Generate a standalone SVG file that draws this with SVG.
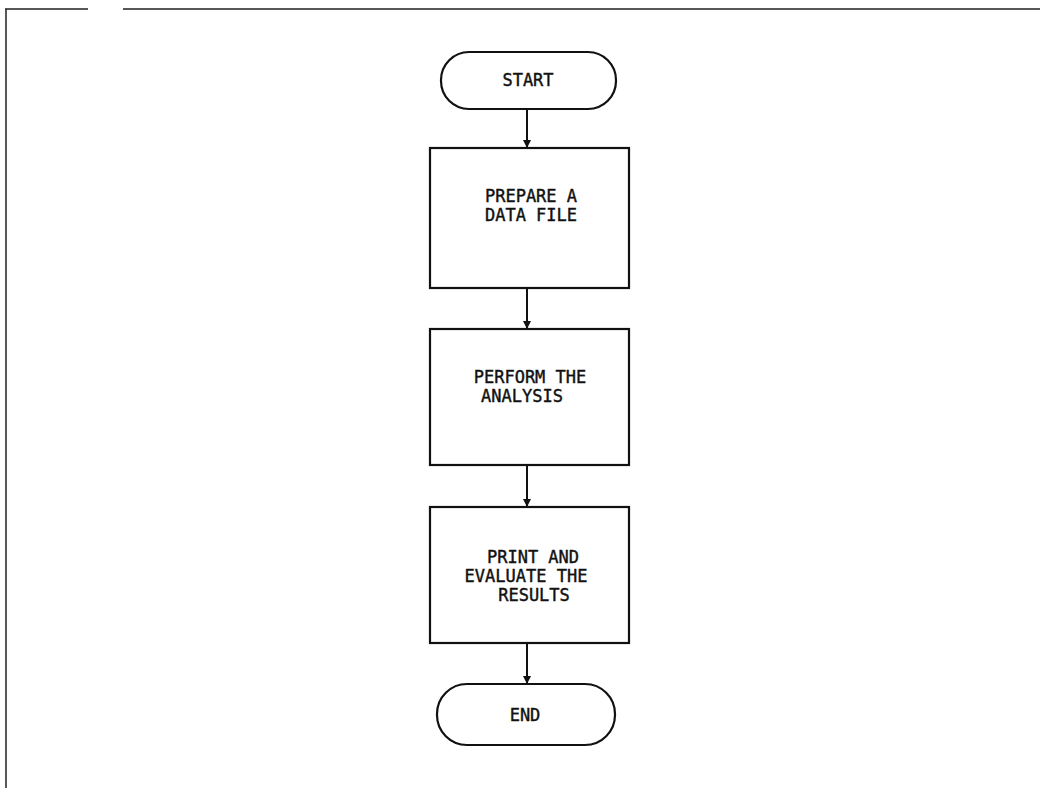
<svg xmlns="http://www.w3.org/2000/svg" width="1040" height="788" viewBox="0 0 1040 788">
<style>
.shape{fill:#fff;stroke:#111;stroke-width:2.2}
.frame{fill:none;stroke:#222;stroke-width:1.5}
.conn{fill:none;stroke:#111;stroke-width:2}
.t{font-family:"DejaVu Sans Mono","Liberation Mono",monospace;font-size:17px;fill:#111;text-anchor:middle;stroke:#111;stroke-width:0.4}
</style>
<defs>
<marker id="arr" viewBox="0 0 10 10" refX="10" refY="5" markerWidth="8" markerHeight="8" markerUnits="userSpaceOnUse" orient="auto">
<path d="M0,0 L10,5 L0,10 z" fill="#111"/>
</marker>
</defs>
<rect width="1040" height="788" fill="#fff"/>
<g id="frame">
<path class="frame" d="M5,9 H88 M123,9 H1040 M6,9 V788"/>
</g>
<g id="connectors">
<line class="conn" x1="527" y1="109" x2="527" y2="148" marker-end="url(#arr)"/>
<line class="conn" x1="527" y1="288" x2="527" y2="329" marker-end="url(#arr)"/>
<line class="conn" x1="527" y1="465" x2="527" y2="507" marker-end="url(#arr)"/>
<line class="conn" x1="527" y1="643" x2="527" y2="684" marker-end="url(#arr)"/>
</g>
<g id="start">
<rect class="shape" x="441" y="52" width="175" height="57" rx="28" ry="28"/>
<text class="t" x="528" y="86">START</text>
</g>
<g id="prepare">
<rect class="shape" x="430" y="148" width="199" height="140"/>
<text class="t" x="531" y="202">PREPARE A</text>
<text class="t" x="531" y="221">DATA FILE</text>
</g>
<g id="perform">
<rect class="shape" x="430" y="329" width="199" height="136"/>
<text class="t" x="530" y="383">PERFORM THE</text>
<text class="t" x="522" y="402">ANALYSIS</text>
</g>
<g id="print">
<rect class="shape" x="430" y="507" width="199" height="136"/>
<text class="t" x="533" y="563">PRINT AND</text>
<text class="t" x="526" y="582">EVALUATE THE</text>
<text class="t" x="534" y="601">RESULTS</text>
</g>
<g id="end">
<rect class="shape" x="437" y="684" width="178" height="61" rx="30" ry="30"/>
<text class="t" x="525" y="721">END</text>
</g>
</svg>
